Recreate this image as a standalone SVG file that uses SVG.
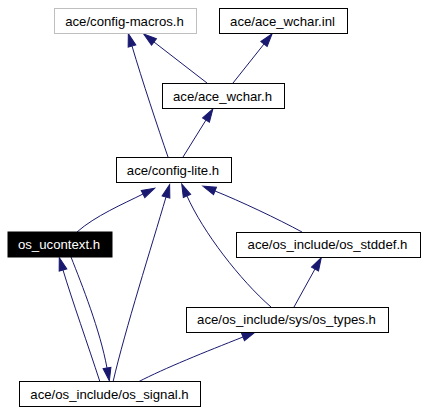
<svg xmlns="http://www.w3.org/2000/svg" width="427" height="413" viewBox="0 0 427 413">
<style>
  .box { fill: #ffffff; stroke: #000000; stroke-width: 1; }
  .gray { stroke: #bfbfbf; }
  .cur { fill: #000000; stroke: #000000; }
  .lbl { font-family: "Liberation Sans", Arial, sans-serif; font-size: 13.2px; text-anchor: middle; fill: #000000; }
  .wlbl { fill: #ffffff; }
  .edge { fill: none; stroke: #191970; stroke-width: 1; marker-end: url(#arrow); }
</style>
<defs>
  <marker id="arrow" markerUnits="userSpaceOnUse" markerWidth="14" markerHeight="10" refX="0" refY="0" orient="auto" overflow="visible">
    <path d="M0,-4 L13,0 L0,4 Z" fill="#191970" stroke="#191970" stroke-width="1"/>
  </marker>
</defs>
<rect x="0" y="0" width="427" height="413" fill="#ffffff"/>
<g id="connectors">
  <path class="edge" d="M168,157 C158,128 142,80 132,46"/>
  <path class="edge" d="M207,83 L154,42"/>
  <path class="edge" d="M233,83 L264,44"/>
  <path class="edge" d="M183,157 L206,120"/>
  <path class="edge" d="M77,232 C95,216 123,204 143,194"/>
  <path class="edge" d="M113,382 C125,330 152,245 166,197"/>
  <path class="edge" d="M271,307 C240,280 203,232 187,196"/>
  <path class="edge" d="M302,232 C278,219 240,201 215,191"/>
  <path class="edge" d="M294,307 L315,269"/>
  <path class="edge" d="M138,382 C165,368 205,352 243,337"/>
  <path class="edge" d="M100,382 C88,345 72,300 63,270"/>
  <path class="edge" d="M71,257 C82,285 100,330 107,368"/>
</g>
<g id="node-config-macros">
  <rect class="box gray" x="54.5" y="8.5" width="142" height="25"/>
  <text class="lbl" x="124.5" y="25.5">ace/config-macros.h</text>
</g>
<g id="node-ace-wchar-inl">
  <rect class="box" x="219.5" y="8.5" width="128" height="25"/>
  <text class="lbl" x="282.5" y="25.5">ace/ace_wchar.inl</text>
</g>
<g id="node-ace-wchar-h">
  <rect class="box" x="162.5" y="83.5" width="122" height="25"/>
  <text class="lbl" x="222.5" y="100.5">ace/ace_wchar.h</text>
</g>
<g id="node-config-lite">
  <rect class="box" x="116.5" y="157.5" width="115" height="25"/>
  <text class="lbl" x="173" y="174.5">ace/config-lite.h</text>
</g>
<g id="node-os-ucontext">
  <rect class="cur" x="8" y="232" width="104" height="25"/>
  <text class="lbl wlbl" x="59" y="249">os_ucontext.h</text>
</g>
<g id="node-os-stddef">
  <rect class="box" x="236.5" y="232.5" width="184" height="25"/>
  <text class="lbl" x="327.5" y="249">ace/os_include/os_stddef.h</text>
</g>
<g id="node-os-types">
  <rect class="box" x="186.5" y="307.5" width="202" height="25"/>
  <text class="lbl" x="286.5" y="324">ace/os_include/sys/os_types.h</text>
</g>
<g id="node-os-signal">
  <rect class="box" x="19.5" y="381.5" width="181" height="25"/>
  <text class="lbl" x="109.5" y="398.5">ace/os_include/os_signal.h</text>
</g>
</svg>
